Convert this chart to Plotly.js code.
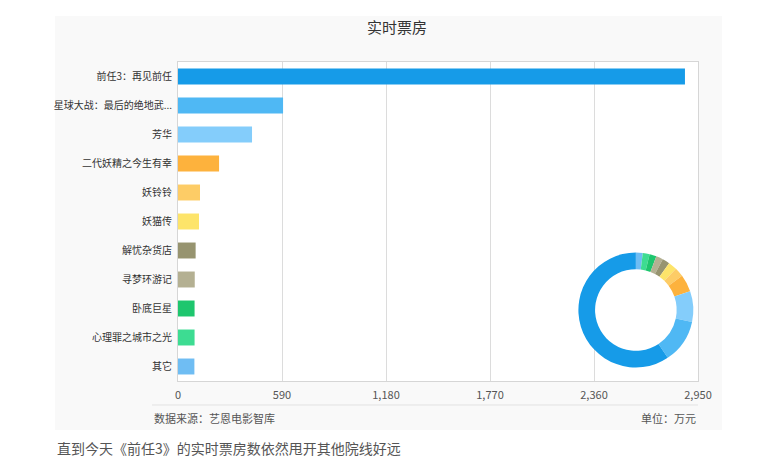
<!DOCTYPE html>
<html>
<head>
<meta charset="utf-8">
<title>实时票房</title>
<script src="https://cdn.plot.ly/plotly-3.0.1.min.js"></script>
<style>
	body { margin: 0; background-color: white; }
	#chart { width: 760px; height: 465px; }
</style>
</head>
<body>
<div id="chart"></div>
<script>
	// box office, 万元
	var films = ['前任3：再见前任', '星球大战：最后的绝地武...', '芳华', '二代妖精之今生有幸', '妖铃铃',
	             '妖猫传', '解忧杂货店', '寻梦环游记', '卧底巨星', '心理罪之城市之光', '其它'];
	var boxOffice = [2876, 596, 420, 233, 125, 119, 100, 95, 94, 94, 93];
	var filmColors = ['#169be8', '#4fb8f4', '#84cdfb', '#fdb23d', '#fdcc66', '#fde46a',
	                  '#979470', '#b4b092', '#1ec66e', '#3ddc92', '#6fbdf3'];
	var xTicks = [0, 590, 1180, 1770, 2360, 2950];

	var font = '"Noto Sans CJK SC", "Microsoft YaHei", sans-serif';

	var bars = {
	  type: 'bar',
	  orientation: 'h',
	  y: films,
	  x: boxOffice,
	  width: 0.55,
	  marker: {color: filmColors},
	  hoverinfo: 'y+x'
	};

	// the ring runs the other way round from 12 o'clock, so feed it reversed
	var donut = {
	  type: 'pie',
	  labels: films.slice().reverse(),
	  values: boxOffice.slice().reverse(),
	  hole: 0.71,
	  sort: false,
	  direction: 'clockwise',
	  rotation: 0,
	  textinfo: 'none',
	  marker: {colors: filmColors.slice().reverse(), line: {width: 0}},
	  domain: {x: [0.770, 0.991], y: [0.042, 0.403]},
	  showlegend: false
	};

	var layout = {
	  width: 760,
	  height: 465,
	  margin: {l: 178, r: 62, t: 62, b: 84},
	  paper_bgcolor: 'white',
	  plot_bgcolor: 'rgba(0,0,0,0)',
	  showlegend: false,
	  font: {family: font, color: '#444', size: 11},
	  xaxis: {
	    range: [0, 2950],
	    tickvals: xTicks,
	    tickformat: ',d',
	    showgrid: true,
	    gridcolor: '#dcdcdc',
	    zeroline: false,
	    showline: true,
	    linecolor: '#d6d6d6',
	    mirror: true,
	    ticks: 'outside',
	    ticklen: 4,
	    tickcolor: 'rgba(0,0,0,0)',
	    tickfont: {size: 11, color: '#555'},
	    fixedrange: true
	  },
	  yaxis: {
	    autorange: 'reversed',
	    showgrid: false,
	    showline: true,
	    linecolor: '#d6d6d6',
	    mirror: true,
	    ticks: 'outside',
	    ticklen: 3,
	    tickcolor: 'rgba(0,0,0,0)',
	    tickfont: {size: 10, color: '#333'},
	    fixedrange: true
	  },
	  shapes: [
	    {type: 'rect', xref: 'paper', yref: 'paper', layer: 'below',
	     x0: -0.2365, x1: 1.046, y0: -0.1536, y1: 1.144,
	     fillcolor: '#f9f9f9', line: {width: 0}},
	    {type: 'rect', xref: 'paper', yref: 'paper', layer: 'below',
	     x0: 0, x1: 1, y0: 0, y1: 1,
	     fillcolor: 'white', line: {width: 0}},
	    {type: 'line', xref: 'paper', yref: 'paper',
	     x0: -0.05, x1: 1, y0: -0.0752, y1: -0.0752,
	     line: {color: '#e2e2e2', width: 1}}
	  ],
	  annotations: [
	    {text: '实时票房', xref: 'paper', yref: 'paper', x: 0.421, y: 1.110,
	     yanchor: 'middle', showarrow: false, font: {size: 15, color: '#333'}},
	    {text: '数据来源：艺恩电影智库', xref: 'paper', yref: 'paper', x: -0.05, y: -0.116,
	     xanchor: 'left', yanchor: 'middle', showarrow: false, font: {size: 11, color: '#555'}},
	    {text: '单位：万元', xref: 'paper', yref: 'paper', x: 1, y: -0.116,
	     xanchor: 'right', yanchor: 'middle', showarrow: false, font: {size: 11, color: '#555'}},
	    {text: '直到今天《前任3》的实时票房数依然甩开其他院线好远', xref: 'paper', yref: 'paper',
	     x: -0.2365, y: -0.21, xanchor: 'left', yanchor: 'middle', showarrow: false,
	     font: {size: 14, color: '#555'}}
	  ]
	};

	Plotly.newPlot('chart', [bars, donut], layout, {displayModeBar: false, staticPlot: true});
</script>
</body>
</html>
